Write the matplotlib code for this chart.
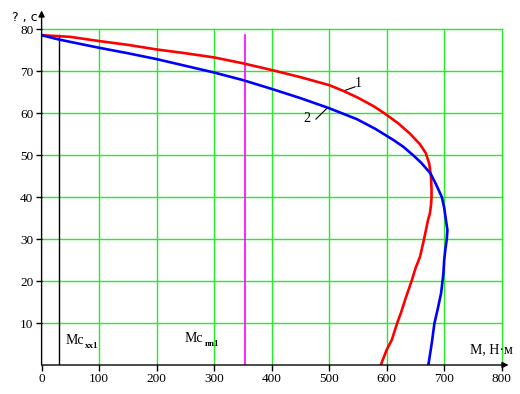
import numpy as np
import matplotlib
matplotlib.use("Agg")
import matplotlib.pyplot as plt

# curve 1 (red): torque M [N*m] vs time t [s]
m1 = [0, 50, 100, 150, 200, 250, 300, 350, 400, 450, 500, 525, 550, 577, 597, 620, 640, 658, 668, 674,
      677, 678, 678, 677, 675, 672, 665, 658, 650, 644, 632, 625, 618, 609, 600, 592, 590]
t1 = [78.6, 78.2, 77.2, 76.3, 75.2, 74.3, 73.3, 71.9, 70.3, 68.6, 66.7, 65.3, 63.7, 61.7, 59.9, 57.6, 55.2, 52.6, 50.5, 48,
      45, 42, 40, 38, 36, 34.6, 30, 25.8, 23, 20.3, 15.5, 12.5, 9.9, 6, 3.6, 0.8, 0]

# curve 2 (blue)
m2 = [0, 26, 50, 100, 150, 200, 250, 300, 350, 400, 450, 500, 548, 580, 612, 629, 646, 660, 676, 686,
      696, 700, 703, 705.6, 704.5, 702, 700, 698.6, 694.6, 689, 683, 678.4, 672.5]
t2 = [78.6, 77.7, 77.0, 75.6, 74.3, 72.9, 71.3, 69.7, 67.9, 65.8, 63.6, 61.2, 58.6, 56.3, 53.6, 52, 50, 48.2, 45.7, 43,
      40, 37.5, 34.6, 32.2, 30, 27.5, 25, 21.8, 17.1, 13.5, 9.9, 5.2, 0]

mc_xx = 30    # black marker line
mc_nom = 354  # magenta marker line
xticks = [0, 100, 200, 300, 400, 500, 600, 700, 800]
yticks = [10, 20, 30, 40, 50, 60, 70, 80]

serif = "Liberation Serif"

fig = plt.figure(figsize=(5.2, 3.94), dpi=100)
ax = fig.add_axes([0.080, 0.0736, 0.8848, 0.852])
ax.set_xlim(0, 800)
ax.set_ylim(0, 80)

# grid
for x in xticks[1:]:
    ax.plot([x, x], [0, 80], color="#22ee22", lw=1.0, zorder=1, clip_on=False)
for y in yticks:
    ax.plot([0, 800], [y, y], color="#22ee22", lw=1.0, zorder=1, clip_on=False)

# marker lines
ax.plot([mc_xx, mc_xx], [0, 78.6], color="black", lw=1.0, zorder=2)
ax.plot([mc_nom, mc_nom], [0, 78.6], color="#ff00ff", lw=1.2, zorder=2)

# curves
ax.plot(m1, t1, color="#ff0000", lw=1.9, zorder=3)
ax.plot(m2, t2, color="#0000ff", lw=1.9, zorder=3)

for s in ax.spines.values():
    s.set_visible(False)

# axes with arrows
ax.annotate("", xy=(0, 84.5), xytext=(0, 0), xycoords="data",
            arrowprops=dict(arrowstyle="-|>", color="black", lw=1.0,
                            mutation_scale=9, shrinkA=0, shrinkB=0),
            annotation_clip=False)
ax.annotate("", xy=(812, 0), xytext=(0, 0), xycoords="data",
            arrowprops=dict(arrowstyle="-|>", color="black", lw=1.0,
                            mutation_scale=9, shrinkA=0, shrinkB=0),
            annotation_clip=False)

ax.set_xticks(xticks)
ax.set_yticks(yticks)
ax.tick_params(axis="both", direction="out", length=4, width=1, color="black",
               labelsize=9.5, pad=2)
for lab in ax.get_xticklabels() + ax.get_yticklabels():
    lab.set_fontfamily(serif)

# curve labels with leaders
ax.text(550, 67.1, "1", fontsize=10, family=serif, ha="center", va="center")
ax.plot([525, 545], [65.3, 66.3], color="black", lw=0.8)
ax.text(461, 58.8, "2", fontsize=10, family=serif, ha="center", va="center")
ax.plot([477, 497], [58.6, 61.3], color="black", lw=0.8)

ax.text(41, 5.8, "Mc", fontsize=10, family=serif, va="center")
ax.text(76, 4.5, "xx1", fontsize=6.5, family=serif, weight="bold", va="center")
ax.text(249, 6.2, "Mc", fontsize=10, family=serif, va="center")
ax.text(284, 4.9, "nn1", fontsize=6.5, family=serif, weight="bold", va="center")
ax.text(745, 3.6, "M, H·м", fontsize=10, family=serif, va="center")

fig.text(0.072, 1 - 17 / 394, "? , c", fontsize=9, family="DejaVu Sans",
         ha="right", va="center")

fig.savefig("out.png", dpi=100)
